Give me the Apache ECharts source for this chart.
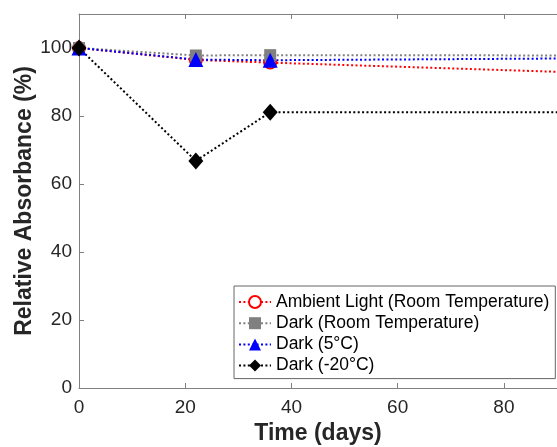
<!DOCTYPE html>
<html>
<head>
<meta charset="utf-8">
<script src="https://cdn.jsdelivr.net/npm/echarts@6/dist/echarts.min.js"></script>
<style>
    html, body { margin: 0; padding: 0; background: #fff; }
    #chart { width: 557px; height: 447px; }
</style>
</head>
<body>
<div id="chart"></div>
<script>
// days of measurement (last one lies past the visible right edge, clipped)
const days = [0, 22, 36, 100];

const ambientRT = [100, 96.5, 95.7, 92.5];
const darkRT = [100, 97.8, 97.9, 97.8];
const dark5C = [100, 96.6, 96.4, 97.0];
const darkMinus20 = [100, 66.8, 81.1, 81.1];

const xTicks = [0, 20, 40, 60, 80];
const yTicks = [0, 20, 40, 60, 80, 100];

const seriesNames = [
    'Ambient Light (Room Temperature)',
    'Dark (Room Temperature)',
    'Dark (5°C)',
    'Dark (-20°C)'
];

function pairs(ys) {
    return days.map((d, i) => [d, ys[i]]);
}

const font = 'Liberation Sans, Arial, Helvetica, sans-serif';
const axisGray = '#808080';
const textColor = '#262626';
const dots = [2, 2.4];

const chartDom = document.getElementById('chart');
const myChart = echarts.init(chartDom);
let option;

option = {
    animation: false,
    backgroundColor: '#fff',
    grid: {
        left: 79,
        top: 14,
        bottom: 59,
        right: 0,
        outerBoundsMode: 'none',
        show: false
    },
    legend: {
        orient: 'vertical',
        left: 234,
        top: 286,
        padding: [7, 6, 4, 4],
        itemGap: 3.2,
        itemWidth: 32,
        itemHeight: 15,
        borderColor: '#666',
        borderWidth: 1,
        borderRadius: 0,
        backgroundColor: '#fff',
        data: seriesNames,
        textStyle: {
            fontFamily: font,
            fontSize: 17.5,
            color: '#000'
        }
    },
    xAxis: [
        {
            type: 'value',
            min: 0,
            max: 90,
            interval: 20,
            name: 'Time (days)',
            nameLocation: 'middle',
            nameMoveOverlap: false,
            nameGap: 34.5,
            nameTextStyle: {
                fontFamily: font,
                fontSize: 23,
                fontWeight: 'bold',
                color: textColor
            },
            axisLine: {lineStyle: {color: axisGray, width: 1}},
            axisTick: {inside: true, length: 5, lineStyle: {color: axisGray}},
            splitLine: {show: false},
            axisLabel: {
                fontFamily: font,
                fontSize: 19,
                color: textColor,
                margin: 10,
                showMaxLabel: false,
                formatter: v => xTicks.includes(v) ? String(v) : ''
            }
        },
        {
            type: 'value',
            position: 'top',
            min: 0,
            max: 90,
            interval: 20,
            axisLine: {show: true, lineStyle: {color: axisGray, width: 1}},
            axisTick: {inside: true, length: 5, lineStyle: {color: axisGray}},
            axisLabel: {show: false},
            splitLine: {show: false}
        }
    ],
    yAxis: {
        type: 'value',
        min: 0,
        max: 110,
        interval: 20,
        name: 'Relative Absorbance (%)',
        nameLocation: 'middle',
        nameMoveOverlap: false,
        nameGap: 43,
        nameTextStyle: {
            fontFamily: font,
            fontSize: 23,
            fontWeight: 'bold',
            color: textColor
        },
        axisLine: {show: true, lineStyle: {color: axisGray, width: 1}},
        axisTick: {inside: true, length: 5, lineStyle: {color: axisGray}},
        splitLine: {show: false},
        axisLabel: {
            fontFamily: font,
            fontSize: 19,
            color: textColor,
            margin: 7,
            showMaxLabel: false,
            formatter: v => yTicks.includes(v) ? String(v) : ''
        }
    },
    series: [
        {
            name: seriesNames[0],
            type: 'line',
            data: pairs(ambientRT),
            clip: true,
            symbol: 'emptyCircle',
            symbolSize: 12,
            itemStyle: {color: '#ff0000', borderColor: '#ff0000', borderWidth: 2},
            lineStyle: {color: '#ff0000', width: 2, type: dots}
        },
        {
            name: seriesNames[1],
            type: 'line',
            data: pairs(darkRT),
            clip: true,
            symbol: 'rect',
            symbolSize: 12,
            itemStyle: {color: '#808080'},
            lineStyle: {color: '#808080', width: 2, type: dots}
        },
        {
            name: seriesNames[2],
            type: 'line',
            data: pairs(dark5C),
            clip: true,
            symbol: 'triangle',
            symbolSize: 15,
            itemStyle: {color: '#0000ff'},
            lineStyle: {color: '#0000ff', width: 2, type: dots}
        },
        {
            name: seriesNames[3],
            type: 'line',
            data: pairs(darkMinus20),
            clip: true,
            symbol: 'diamond',
            symbolSize: [15, 17],
            itemStyle: {color: '#000000'},
            lineStyle: {color: '#000000', width: 2, type: dots}
        }
    ]
};

option && myChart.setOption(option);
</script>
</body>
</html>
